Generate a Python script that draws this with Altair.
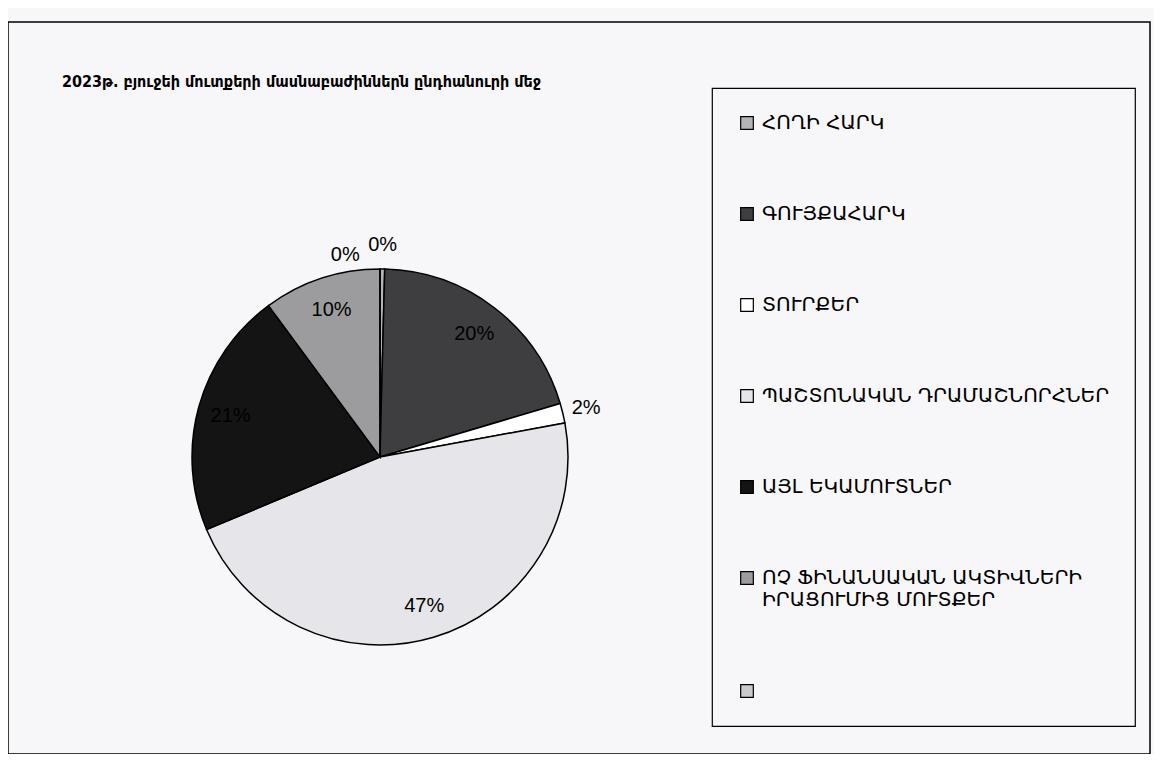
import altair as alt
import pandas as pd

title_text = "2023թ. բյուջեի մուտքերի մասնաբաժիններն ընդհանուրի մեջ"

categories = [
    "ՀՈՂԻ ՀԱՐԿ",
    "ԳՈՒՅՔԱՀԱՐԿ",
    "ՏՈՒՐՔԵՐ",
    "ՊԱՇՏՈՆԱԿԱՆ ԴՐԱՄԱՇՆՈՐՀՆԵՐ",
    "ԱՅԼ ԵԿԱՄՈՒՏՆԵՐ",
    "ՈՉ ՖԻՆԱՆՍԱԿԱՆ ԱԿՏԻՎՆԵՐԻ\nԻՐԱՑՈՒՄԻՑ ՄՈՒՏՔԵՐ",
    " ",
]
shares = [0.4, 20.0, 1.7, 46.6, 21.2, 10.1, 0.0]

palette = ["#b4b4b6", "#3e3e40", "#ffffff", "#e6e6ea", "#141414", "#9c9c9e", "#cacacc"]

df = pd.DataFrame({"category": categories, "share": shares, "idx": list(range(len(categories)))})

CX, CY, R = 372, 435, 188

base = alt.Chart(df)

pie = base.mark_arc(stroke="black", strokeWidth=1.5, outerRadius=R).encode(
    x=alt.value(CX),
    y=alt.value(CY),
    theta=alt.Theta("share:Q", stack=True),
    order=alt.Order("idx:Q"),
    color=alt.Color(
        "category:N",
        sort=categories,
        scale=alt.Scale(domain=categories, range=palette),
        legend=alt.Legend(
            title=None,
            orient="none",
            legendX=704,
            legendY=66,
            direction="vertical",
            strokeColor="black",
            padding=25,
            symbolType="square",
            symbolSize=160,
            symbolStrokeColor="black",
            symbolStrokeWidth=1.2,
            labelFont="DejaVu Sans",
            labelFontSize=20,
            labelColor="black",
            labelLimit=0,
            labelOffset=5,
            rowPadding=71,
            labelExpr="split(datum.label, '\\n')",
        ),
    ),
)

labels = base.transform_window(
    cum="sum(share)", sort=[alt.SortField("idx")]
).transform_joinaggregate(
    total="sum(share)"
).transform_calculate(
    mid="2 * PI * (datum.cum - datum.share / 2) / datum.total - (datum.share == 0 ? 0.17 : 0)",
    rad="datum.share == 0 ? 205 : (datum.share / datum.total < 0.03 ? 212 : 155)",
    lab="round(datum.share / datum.total * 100) + '%'",
).mark_text(font="Liberation Sans", fontSize=20, color="black").encode(
    x=alt.value(CX),
    y=alt.value(CY),
    theta=alt.Theta("mid:Q", scale=None, stack=False),
    radius=alt.Radius("rad:Q", scale=None),
    text="lab:N",
)

chart = (
    alt.layer(pie, labels)
    .properties(
        width=1142,
        height=732,
        padding={"left": 0, "top": 14, "right": 4, "bottom": 0},
        autosize=alt.AutoSizeParams(type="none"),
        background="#f7f7f9",
        title=alt.TitleParams(
            text=title_text,
            anchor="start",
            orient="top",
            font="DejaVu Sans Condensed",
            fontSize=16,
            fontWeight="bold",
            color="black",
            dx=54,
            dy=72,
        ),
    )
    .configure_view(stroke="black", strokeWidth=1.5)
    .configure_legend(strokeWidth=1.2)
)

chart.save("out.html", embed_options={"renderer": "svg", "actions": False})
